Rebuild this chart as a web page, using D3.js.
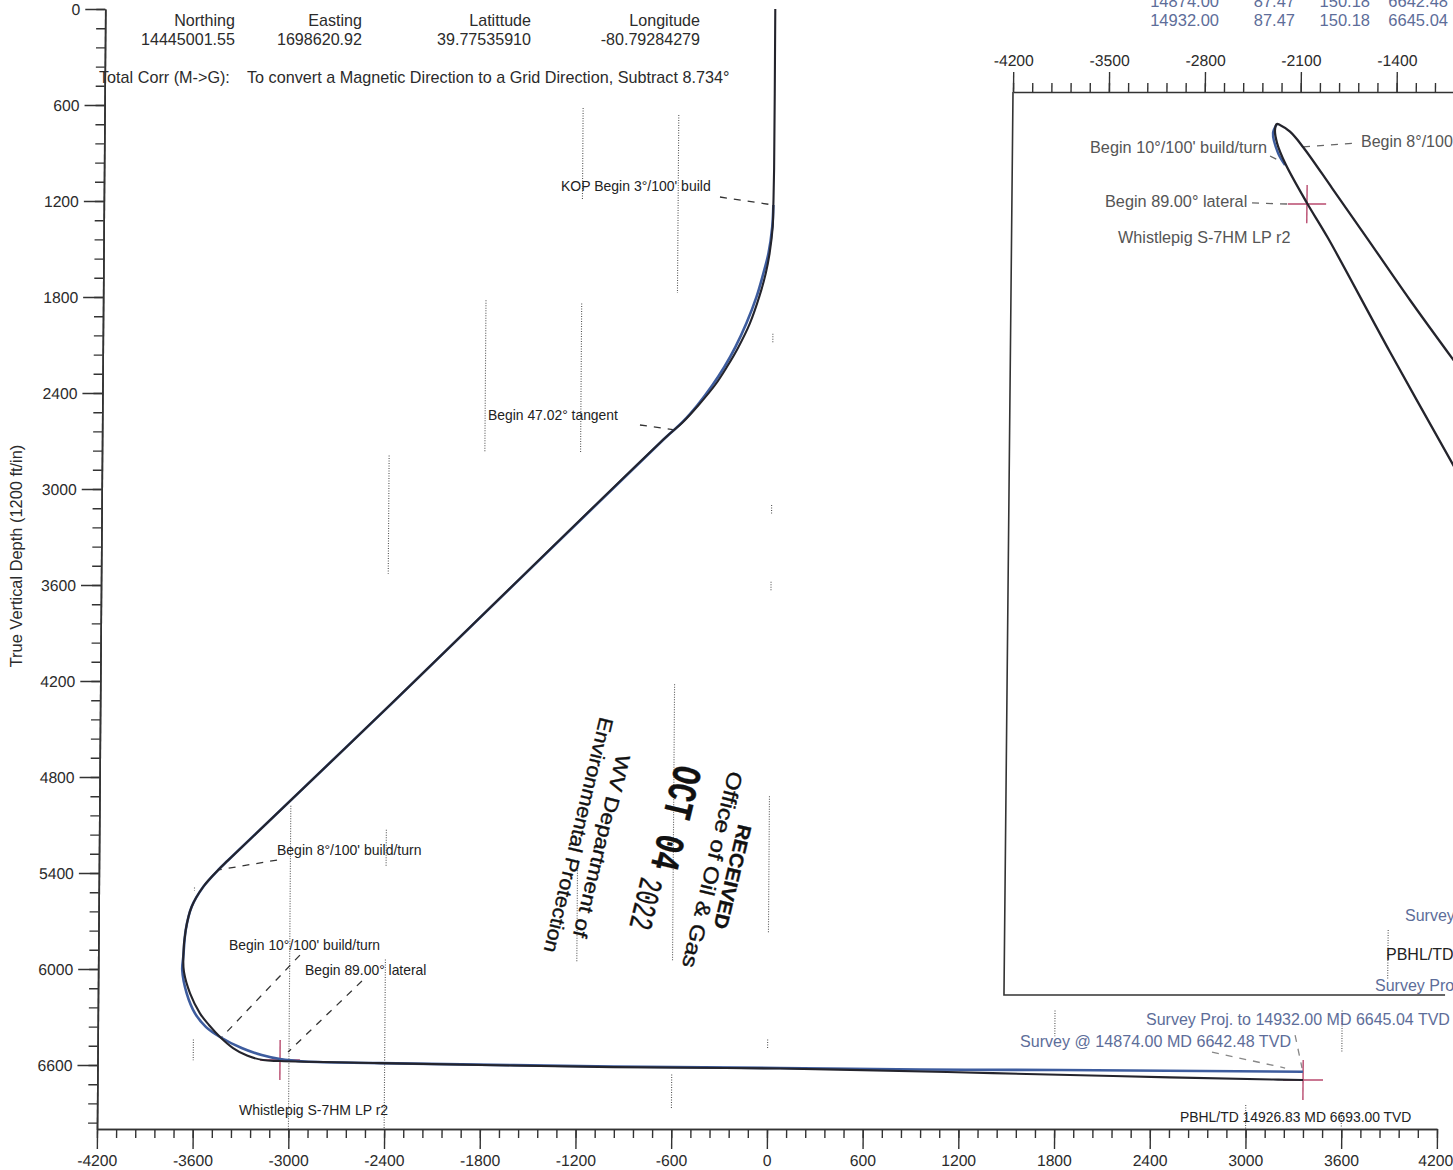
<!DOCTYPE html>
<html>
<head>
<meta charset="utf-8">
<script src="https://cdn.jsdelivr.net/npm/d3@7"></script>
<style>
  html, body { margin: 0; padding: 0; background: #fff; overflow: hidden; }
  text { font-family: "Liberation Sans", Arial, sans-serif; fill: #2b2b2b; }
</style>
</head>
<body>
<svg id="chart" width="1453" height="1170"></svg>
<script>
// section view: vertical section (ft) and true vertical depth (ft)
const planVs = [0, 0, -3, -6, -24, -47, -87, -144, -215, -286, -360, -462, -559, -671, -2370, -3389, -3452, -3545, -3617, -3653, -3667, -3662, -3623, -3560, -3503, -3433, -3351, -3263, -3163, -3056, -2429, -968, 79, 1126, 2167, 3170, 3358];
const planTvd = [0, 1000, 1225, 1361, 1525, 1650, 1798, 1963, 2112, 2236, 2350, 2475, 2581, 2681, 4338, 5319, 5381, 5486, 5611, 5756, 5923, 6019, 6152, 6277, 6350, 6425, 6494, 6541, 6569, 6575, 6588, 6613, 6622, 6644, 6669, 6691, 6694];
const surveyVs = [-3, -9, -31, -62, -104, -166, -234, -302, -376, -469, -562, -671, -2370, -3389, -3452, -3545, -3617, -3653, -3667, -3673, -3644, -3591, -3521, -3433, -3297, -3171, -3056, -2899, -2429, -968, 79, 957, 1834, 3357];
const surveyTvd = [1225, 1361, 1525, 1650, 1798, 1963, 2112, 2236, 2350, 2475, 2581, 2681, 4338, 5319, 5381, 5486, 5611, 5756, 5923, 6006, 6152, 6277, 6363, 6425, 6494, 6538, 6563, 6578, 6588, 6609, 6619, 6628, 6631, 6642];

// plan view inset: easting and distance south of the frame top (ft)
const insetPlanE = [-954, -1287, -1605, -1864, -2079, -2175, -2249, -2271, -2285, -2269, -2209, -2046, -1890, -1429, -946];
const insetPlanS = [1971, 1518, 1066, 701, 401, 290, 241, 234, 277, 372, 518, 810, 1066, 1898, 2745];
const insetSurveyE = [-2271, -2299, -2261, -2209];
const insetSurveyS = [234, 299, 445, 533];

const xMajor = d3.range(-4200, 4201, 600);
const xMinor = d3.range(-4200, 4201, 120);
const yMajor = d3.range(0, 6601, 600);
const yMinor = d3.range(0, 7001, 120);
const insetMajor = [-4200, -3500, -2800, -2100, -1400];
const insetMinor = d3.range(-4200, -979, 140);

// [vs, tvd from, tvd to] what is left of the dotted grid in the scan
const gridBits = [
  [-1200, 619, 1194], [-600, 663, 1775], [-1800, 1820, 2770], [-1200, 1840, 2770],
  [-2400, 2790, 3530], [-3000, 4980, 7000], [-2400, 5130, 5360], [-2400, 5940, 7000],
  [-3600, 6440, 6570], [-3600, 5490, 5510], [-600, 4220, 5950], [-600, 6660, 6870],
  [-1200, 5320, 5960], [0, 2030, 2090], [0, 3100, 3160], [0, 3580, 3640], [0, 4920, 5780],
  [0, 6440, 6500], [1800, 6260, 6420], [3600, 6260, 6520], [3600, 6900, 6990], [3000, 6850, 7000]
];
const insetGridBits = [[-1400, 6117, 6482]];

// dashed leaders [vs, tvd, vs, tvd]
const leaders = [
  [-338, 1175, -3, 1225], [-829, 2600, -603, 2631], [-3084, 5319, -3453, 5381],
  [-2936, 5913, -3421, 6425], [-2546, 6075, -3006, 6519]
];
const surveyLeaders = [[3306, 6413, 3351, 6619], [2786, 6519, 3245, 6619]];
const insetLeaders = [[-2319, 467, -2217, 518], [-2079, 401, -1678, 372], [-2447, 810, -2170, 818]];

const targets = [[-3056, 6569], [3358, 6694]];
const insetTargets = [[-2046, 818]];

const headerCols = [
  { right: 235, title: 'Northing', value: '14445001.55' },
  { right: 362, title: 'Easting', value: '1698620.92' },
  { right: 531, title: 'Latittude', value: '39.77535910' },
  { right: 700, title: 'Longitude', value: '-80.79284279' }
];
const surveyRows = [
  ['14874.00', '87.47', '150.18', '6642.48'],
  ['14932.00', '87.47', '150.18', '6645.04']
];
const surveyRowRight = [1219, 1295, 1370, 1448];

// text placed straight on the page [text, x, y, size, colour]
const labels = [
  ['KOP Begin 3\u00b0/100\' build', 561, 186, 14, '#222'],
  ['Begin 47.02\u00b0 tangent', 488, 415, 13.9, '#222'],
  ['Begin 8\u00b0/100\' build/turn', 277, 850, 14, '#222'],
  ['Begin 10\u00b0/100\' build/turn', 229, 945, 13.9, '#222'],
  ['Begin 89.00\u00b0 lateral', 305, 970, 13.9, '#222'],
  ['Whistlepig S-7HM LP r2', 239, 1110, 14, '#222'],
  ['PBHL/TD 14926.83 MD 6693.00 TVD', 1180, 1117, 13.9, '#222'],
  ['Survey Proj. to 14932.00 MD 6645.04 TVD', 1146, 1019, 16, '#5d6d99'],
  ['Survey @ 14874.00 MD 6642.48 TVD', 1020, 1041, 16.1, '#5d6d99'],
  ['Begin 10\u00b0/100\' build/turn', 1090, 147, 16.3, '#555'],
  ['Begin 8\u00b0/100', 1361, 141, 16, '#555'],
  ['Begin 89.00\u00b0 lateral', 1105, 201, 16.3, '#555'],
  ['Whistlepig S-7HM LP r2', 1118, 237, 16.2, '#555'],
  ['Survey', 1405, 915, 16, '#5d6d99'],
  ['PBHL/TD', 1386, 954, 16, '#222'],
  ['Survey Pro', 1375, 985, 16, '#5d6d99']
];

// received stamp, scanned sideways [text, x, y, size, squeeze, font, weight]
const stampAngle = 103.5;
const stamp = [
  ['RECEIVED', 745, 825, 19.5, 1.07, 'Liberation Sans', 700],
  ['Office of Oil & Gas', 736, 772, 21, 1.16, 'Liberation Sans', 400],
  ['OCT 04', 686, 766, 41, 0.72, 'Liberation Mono', 700],
  ['2022', 650, 878, 33, 0.66, 'Liberation Mono', 400],
  ['WV Department of', 623, 755, 20, 1.14, 'Liberation Sans', 400],
  ['Environmental Protection', 607, 718, 20, 1.08, 'Liberation Sans', 400]
];

const svg = d3.select('#chart');
const inkColor = '#333';

// the scan leans a little, so each frame gets its own shear
const shear = (k, y0) => `matrix(1,0,${-k},1,${k * y0},0)`;

const x = d3.scaleLinear().domain([-4200, 4200]).range([97, 1437]);
const y = d3.scaleLinear().domain([0, 7000]).range([9, 1129]);
const ix = d3.scaleLinear().domain([-4200, -980]).range([1013, 1454.1]);
const iy = d3.scaleLinear().domain([0, 6591]).range([92, 995]);

const main = svg.append('g').attr('transform', shear(0.0074, 1129));
const inset = svg.append('g').attr('transform', shear(0.01, 92));

const styleAxis = (g, size) => {
  g.selectAll('path.domain').attr('stroke', inkColor).attr('stroke-width', 1.6);
  g.selectAll('.tick line').attr('stroke', inkColor).attr('stroke-width', 1.4);
  g.selectAll('.tick text').attr('font-size', size).attr('font-family', 'Liberation Sans').attr('fill', '#2b2b2b');
};
const plain = d => String(d);

// dotted grid remains
main.append('g').selectAll('line').data(gridBits).enter().append('line')
  .attr('x1', d => x(d[0])).attr('x2', d => x(d[0]))
  .attr('y1', d => y(d[1])).attr('y2', d => y(d[2]))
  .attr('stroke', '#555').attr('stroke-width', 1.1).attr('stroke-dasharray', '1 1.5');
inset.append('g').selectAll('line').data(insetGridBits).enter().append('line')
  .attr('x1', d => ix(d[0])).attr('x2', d => ix(d[0]))
  .attr('y1', d => iy(d[1])).attr('y2', d => iy(d[2]))
  .attr('stroke', '#555').attr('stroke-width', 1.1).attr('stroke-dasharray', '1 1.5');

// main axes
main.append('g').attr('transform', `translate(0,${y(7000)})`)
  .call(d3.axisBottom(x).tickValues(xMinor).tickSize(9).tickSizeOuter(0).tickFormat(''))
  .call(styleAxis, 0);
main.append('g').attr('transform', `translate(0,${y(7000)})`)
  .call(d3.axisBottom(x).tickValues(xMajor).tickSize(20).tickSizeOuter(0).tickPadding(6).tickFormat(plain))
  .call(styleAxis, 15.7)
  .call(g => g.selectAll('.tick:last-of-type text').attr('dx', -1.5));
main.append('g').attr('transform', `translate(${x(-4200)},0)`)
  .call(d3.axisLeft(y).tickValues(yMinor).tickSize(9).tickSizeOuter(0).tickFormat(''))
  .call(styleAxis, 0);
main.append('g').attr('transform', `translate(${x(-4200)},0)`)
  .call(d3.axisLeft(y).tickValues(yMajor).tickSize(20).tickSizeOuter(0).tickPadding(5).tickFormat(plain))
  .call(styleAxis, 15.7);

svg.append('text')
  .attr('transform', 'translate(16,556) rotate(-90)')
  .attr('text-anchor', 'middle').attr('dominant-baseline', 'central')
  .attr('font-size', 16.4)
  .text('True Vertical Depth (1200 ft/in)');

// inset frame and top axis
const frame = [[-4200, 0], [-4200, 6591], [-980, 6591]];
inset.append('path')
  .attr('d', d3.line().x(d => ix(d[0])).y(d => iy(d[1]))(frame))
  .attr('fill', 'none').attr('stroke', inkColor).attr('stroke-width', 1.6);
inset.append('g').attr('transform', `translate(0,${iy(0)})`)
  .call(d3.axisTop(ix).tickValues(insetMinor).tickSize(9).tickSizeOuter(0).tickFormat(''))
  .call(styleAxis, 0);
inset.append('g').attr('transform', `translate(0,${iy(0)})`)
  .call(d3.axisTop(ix).tickValues(insetMajor).tickSize(20).tickSizeOuter(0).tickPadding(6).tickFormat(plain))
  .call(g => { styleAxis(g, 15.7); g.selectAll('path.domain').remove(); g.selectAll('.tick text').attr('fill', '#555'); });

// leaders
const leaderLines = (g, data, sx, sy, color) => g.append('g').selectAll('line').data(data).enter().append('line')
  .attr('x1', d => sx(d[0])).attr('y1', d => sy(d[1]))
  .attr('x2', d => sx(d[2])).attr('y2', d => sy(d[3]))
  .attr('stroke', color).attr('stroke-width', 1.3).attr('stroke-dasharray', '7 7');
leaderLines(main, leaders, x, y, '#333');
leaderLines(main, surveyLeaders, x, y, '#888');
leaderLines(inset, insetLeaders, ix, iy, '#666');

// target crosses
const crossColor = '#b84a6e';
const crosses = (g, data, sx, sy, arm) => {
  const c = g.append('g').selectAll('g').data(data).enter().append('g');
  c.append('line')
    .attr('x1', d => sx(d[0] - arm)).attr('x2', d => sx(d[0] + arm))
    .attr('y1', d => sy(d[1])).attr('y2', d => sy(d[1]));
  c.append('line')
    .attr('x1', d => sx(d[0])).attr('x2', d => sx(d[0]))
    .attr('y1', d => sy(d[1] - arm)).attr('y2', d => sy(d[1] + arm));
  c.selectAll('line').attr('stroke', crossColor).attr('stroke-width', 1.4);
};
crosses(main, targets, x, y, 125);
crosses(inset, insetTargets, ix, iy, 140);

// well paths
const curve = d3.curveCatmullRom.alpha(0.5);
const mainLine = d3.line().x(d => x(d[0])).y(d => y(d[1])).curve(curve);
const insetLine = d3.line().x(d => ix(d[0])).y(d => iy(d[1])).curve(curve);
const blue = '#3d5c9e';
const dark = '#24242c';

main.append('path').attr('d', mainLine(d3.zip(surveyVs, surveyTvd)))
  .attr('fill', 'none').attr('stroke', blue).attr('stroke-width', 2.6);
main.append('path').attr('d', mainLine(d3.zip(planVs, planTvd)))
  .attr('fill', 'none').attr('stroke', dark).attr('stroke-width', 2.1);
inset.append('path').attr('d', insetLine(d3.zip(insetSurveyE, insetSurveyS)))
  .attr('fill', 'none').attr('stroke', blue).attr('stroke-width', 2.4);
inset.append('path').attr('d', insetLine(d3.zip(insetPlanE, insetPlanS)))
  .attr('fill', 'none').attr('stroke', dark).attr('stroke-width', 2.3);

// header block
const head = svg.append('g').attr('font-size', 16.1).attr('text-anchor', 'end');
headerCols.forEach(c => {
  head.append('text').attr('x', c.right).attr('y', 20).attr('dominant-baseline', 'central').text(c.title);
  head.append('text').attr('x', c.right).attr('y', 39).attr('dominant-baseline', 'central').text(c.value);
});
svg.append('text').attr('x', 99).attr('y', 77).attr('dominant-baseline', 'central').attr('font-size', 16.2)
  .text('Total Corr (M->G):');
svg.append('text').attr('x', 247).attr('y', 77).attr('dominant-baseline', 'central').attr('font-size', 16.2)
  .text('To convert a Magnetic Direction to a Grid Direction, Subtract 8.734\u00b0');

// survey table at the top right, cut by the page edge as in the scan
surveyRows.forEach((row, i) => {
  row.forEach((v, j) => {
    svg.append('text')
      .attr('x', surveyRowRight[j]).attr('y', 1 + i * 18.5)
      .attr('text-anchor', 'end').attr('dominant-baseline', 'central')
      .attr('font-size', 16.5).style('fill', '#5d6d99')
      .text(v);
  });
});

// annotations
labels.forEach(l => {
  svg.append('text')
    .attr('x', l[1]).attr('y', l[2])
    .attr('dominant-baseline', 'central')
    .attr('font-size', l[3]).style('fill', l[4])
    .text(l[0]);
});

// stamp
stamp.forEach(s => {
  svg.append('text')
    .attr('transform', `translate(${s[1]},${s[2]}) rotate(${stampAngle}) scale(${s[4]},1)`)
    .attr('dominant-baseline', 'central')
    .attr('font-size', s[3])
    .style('font-family', s[5])
    .attr('font-weight', s[6])
    .style('fill', '#111').style('stroke', '#111').style('stroke-width', 0.35)
    .text(s[0]);
});
</script>
</body>
</html>
